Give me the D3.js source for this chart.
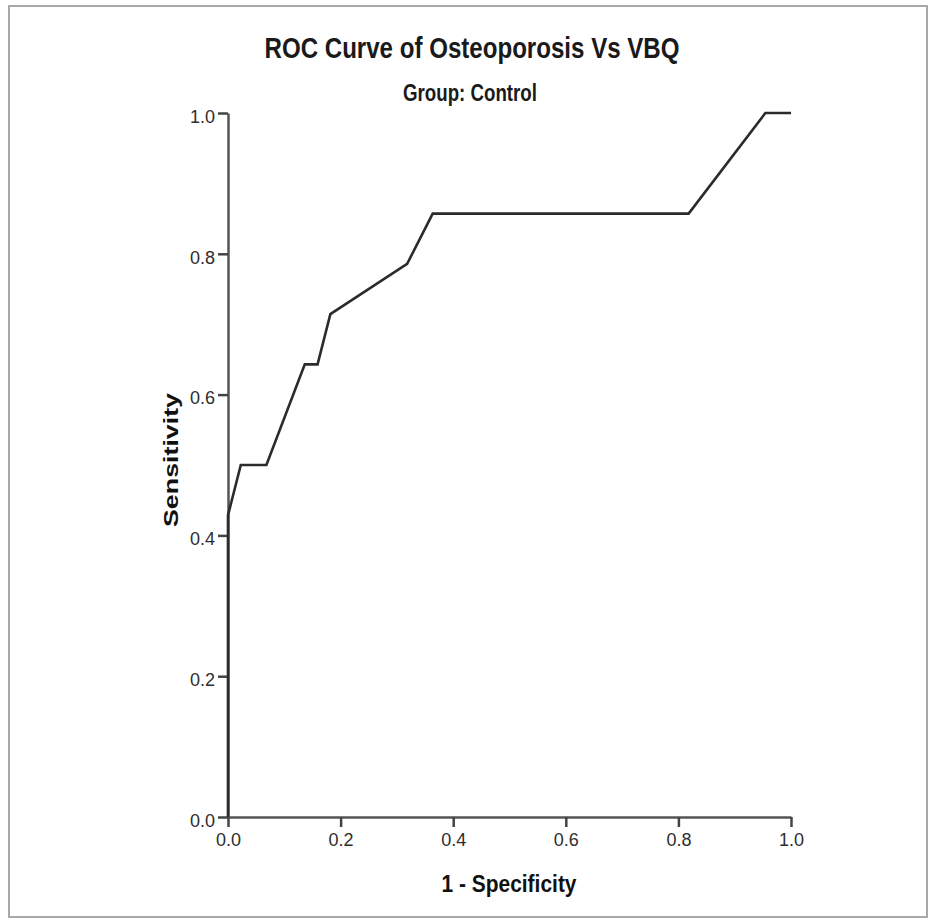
<!DOCTYPE html>
<html>
<head>
<meta charset="utf-8">
<script src="https://cdn.jsdelivr.net/npm/d3@7"></script>
<style>
  html, body { margin: 0; padding: 0; background: #fff; }
  svg { display: block; }
</style>
</head>
<body>
<script>
// ---- Data ----
const fpr = [0, 0, 0.0227, 0.0682, 0.1364, 0.1591, 0.1818, 0.3182, 0.3636, 0.8182, 0.9545, 1];
const tpr = [0, 0.4286, 0.5, 0.5, 0.6429, 0.6429, 0.7143, 0.7857, 0.8571, 0.8571, 1, 1];
const xTicks = [0, 0.2, 0.4, 0.6, 0.8, 1.0];
const yTicks = [0, 0.2, 0.4, 0.6, 0.8, 1.0];
const titleText = "ROC Curve of Osteoporosis Vs VBQ";
const subtitleText = "Group: Control";
const xLabel = "1 - Specificity";
const yLabel = "Sensitivity";

const W = 928, H = 921;
const svg = d3.select("body").append("svg").attr("width", W).attr("height", H);

// outer frame
svg.append("rect").attr("x", 9).attr("y", 6).attr("width", 918).attr("height", 911)
  .attr("fill", "#fff").attr("stroke", "#a8a8a8").attr("stroke-width", 2);

const x = d3.scaleLinear().domain([0, 1]).range([228, 791]);
const y = d3.scaleLinear().domain([0, 1]).range([817, 113]);

const font = "'Liberation Sans', Arial, sans-serif";

// titles
svg.append("text").attr("x", 472).attr("y", 58).attr("text-anchor", "middle")
  .attr("font-family", font).attr("font-size", 29).attr("font-weight", "bold")
  .attr("fill", "#1a1a1a").attr("textLength", 415).attr("lengthAdjust", "spacingAndGlyphs")
  .text(titleText);
svg.append("text").attr("x", 470).attr("y", 101).attr("text-anchor", "middle")
  .attr("font-family", font).attr("font-size", 24).attr("font-weight", "bold")
  .attr("fill", "#1a1a1a").attr("textLength", 134).attr("lengthAdjust", "spacingAndGlyphs")
  .text(subtitleText);

// axes
const xAxis = d3.axisBottom(x).tickValues(xTicks).tickFormat(d3.format(".1f")).tickSize(10).tickSizeOuter(0).tickPadding(6);
const yAxis = d3.axisLeft(y).tickValues(yTicks).tickFormat(d3.format(".1f")).tickSize(10).tickSizeOuter(0).tickPadding(3);

const gx = svg.append("g").attr("transform", `translate(0,${y(0)})`).call(xAxis);
const gy = svg.append("g").attr("transform", `translate(${x(0)},0)`).call(yAxis);

[gx, gy].forEach(g => {
  g.select(".domain").attr("stroke", "#555").attr("stroke-width", 2.5);
  g.selectAll(".tick line").attr("stroke", "#444").attr("stroke-width", 2.5);
  g.selectAll(".tick text").attr("font-family", font).attr("font-size", 18).attr("fill", "#2e2e2e");
});
gx.selectAll(".tick text").attr("dy", "0.71em");
gy.selectAll(".tick text").attr("dy", "0.52em");

// axis labels
svg.append("text").attr("x", 509).attr("y", 892).attr("text-anchor", "middle")
  .attr("font-family", font).attr("font-size", 23).attr("font-weight", "bold")
  .attr("fill", "#111").attr("textLength", 135).attr("lengthAdjust", "spacingAndGlyphs")
  .text(xLabel);
svg.append("text").attr("transform", `translate(178,460) rotate(-90)`).attr("text-anchor", "middle")
  .attr("font-family", font).attr("font-size", 20).attr("font-weight", "bold")
  .attr("fill", "#111").attr("textLength", 134).attr("lengthAdjust", "spacingAndGlyphs")
  .text(yLabel);

// ROC curve
const pts = fpr.map((v, i) => [v, tpr[i]]);
const line = d3.line().x(d => x(d[0])).y(d => y(d[1]));
svg.append("path").datum(pts).attr("d", line)
  .attr("fill", "none").attr("stroke", "#2b2b2b").attr("stroke-width", 2.6)
  .attr("stroke-linejoin", "miter");
</script>
</body>
</html>
